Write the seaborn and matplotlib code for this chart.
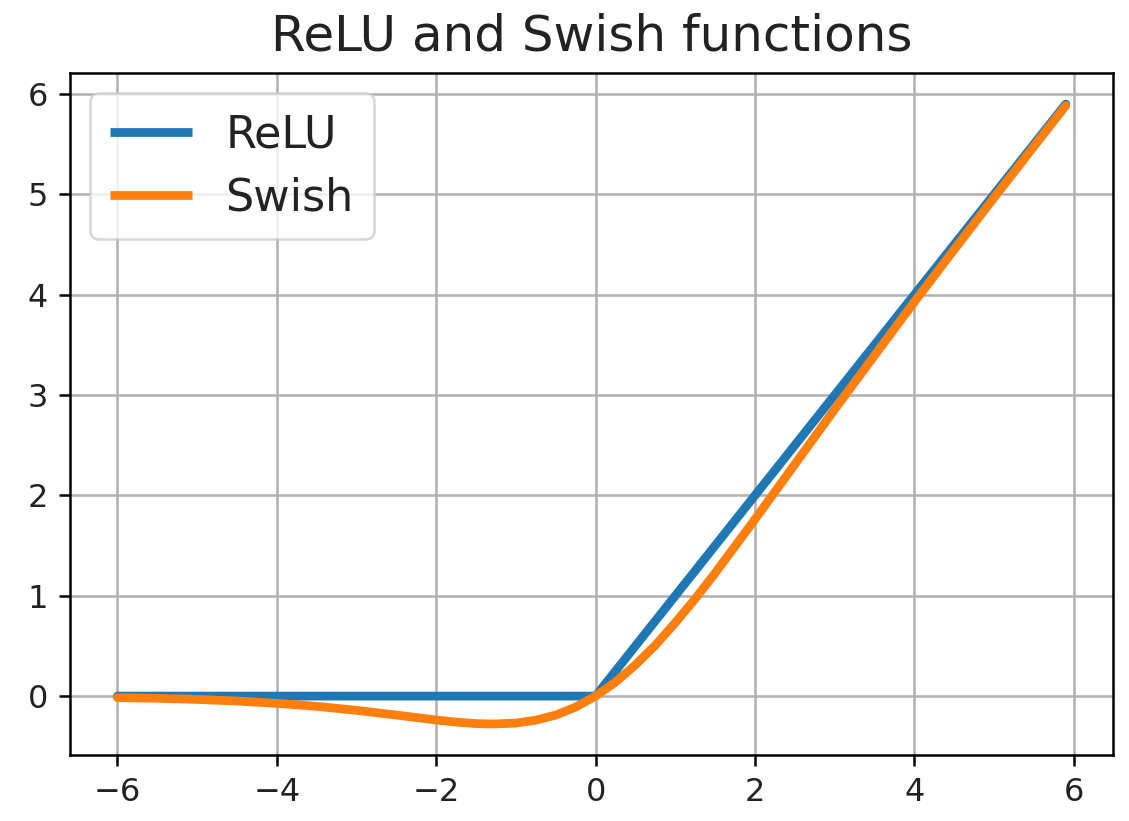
import matplotlib
matplotlib.use("Agg")
import matplotlib.pyplot as plt
import seaborn as sns
import pandas as pd

# ReLU (piecewise linear)
relu_x = [-6.0, 0.0, 5.9]
relu_y = [0.0, 0.0, 5.9]

# Swish values
swish_x = [-6.0, -5.5, -5.0, -4.5, -4.0, -3.5, -3.0, -2.5, -2.0, -1.75, -1.5, -1.28,
           -1.0, -0.75, -0.5, -0.25, 0.0, 0.25, 0.5, 0.75, 1.0, 1.25, 1.5, 2.0,
           2.5, 3.0, 3.5, 4.0, 4.5, 5.0, 5.5, 5.9]
swish_y = [-0.015, -0.022, -0.033, -0.049, -0.072, -0.102, -0.142, -0.189, -0.238,
           -0.259, -0.274, -0.278, -0.269, -0.240, -0.189, -0.109, 0.0, 0.140,
           0.311, 0.507, 0.731, 0.970, 1.226, 1.762, 2.310, 2.858, 3.395, 3.928,
           4.450, 4.967, 5.478, 5.884]

labels = ["ReLU", "Swish"]
colors = ["#1f77b4", "#ff7f0e"]
title = "ReLU and Swish functions"
xticks = [-6, -4, -2, 0, 2, 4, 6]
yticks = [0, 1, 2, 3, 4, 5, 6]

df = pd.concat([
    pd.DataFrame({"x": relu_x, "y": relu_y, "fn": labels[0]}),
    pd.DataFrame({"x": swish_x, "y": swish_y, "fn": labels[1]}),
], ignore_index=True)

plt.rcParams.update({
    "font.family": ["DejaVu Sans"],
    "axes.linewidth": 1.8,
    "xtick.major.width": 1.8,
    "ytick.major.width": 1.8,
    "xtick.major.size": 8,
    "ytick.major.size": 8,
    "xtick.major.pad": 8,
    "ytick.major.pad": 8,
    "text.color": "#222222",
    "xtick.labelcolor": "#222222",
    "ytick.labelcolor": "#222222",
})

fig = plt.figure(figsize=(11.29, 8.21), dpi=100)
ax = fig.add_axes([0.062, 0.0804, 0.924, 0.8306])

sns.lineplot(data=df, x="x", y="y", hue="fn", palette=colors, linewidth=6.3,
             ax=ax, sort=False, estimator=None)
for ln in ax.get_lines():
    ln.set_solid_capstyle("round")

ax.set_xticks(xticks)
ax.set_yticks(yticks)
ax.tick_params(labelsize=23)
ax.grid(True, color="#b0b0b0", linewidth=1.8)
ax.set_axisbelow(True)
ax.set_xlabel("")
ax.set_ylabel("")
ax.set_title(title, fontsize=36, pad=16)

leg = ax.legend(loc="upper left", fontsize=32, framealpha=0.8, borderpad=0.45,
                handlelength=1.85, handletextpad=0.75, labelspacing=0.45,
                borderaxespad=0.45)
leg.get_frame().set_linewidth(1.8)
for h in leg.get_lines():
    h.set_linewidth(6.3)
    h.set_solid_capstyle("butt")

fig.savefig("out.png", dpi=100)
